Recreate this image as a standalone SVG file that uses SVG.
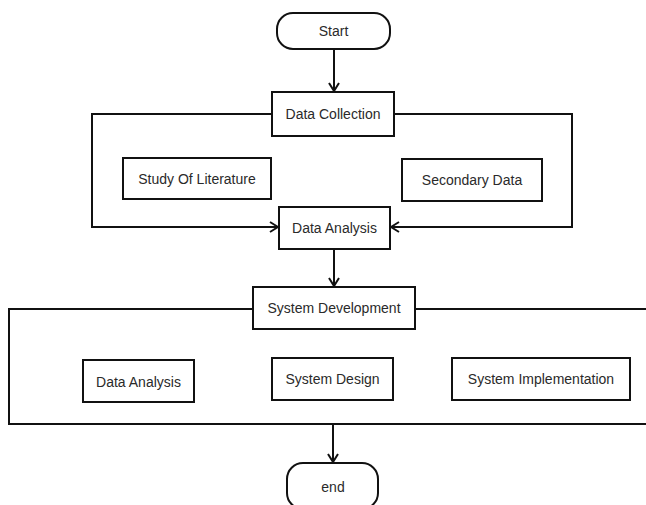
<svg xmlns="http://www.w3.org/2000/svg" width="646" height="505" viewBox="0 0 646 505">
<style>
.box{fill:#fff;stroke:#111;stroke-width:2}
.ln{fill:none;stroke:#111;stroke-width:2}
.t{font-family:"Liberation Sans",Arial,sans-serif;font-size:14px;fill:#2a2a2a;text-anchor:middle;dominant-baseline:central}
</style>
<defs>
<marker id="arr" viewBox="0 0 10 12" refX="9" refY="6" markerWidth="10" markerHeight="12" markerUnits="userSpaceOnUse" orient="auto">
<path d="M1,1 L9,6 L1,11" fill="none" stroke="#111" stroke-width="2"/>
</marker>
</defs>
<rect width="646" height="505" fill="#fff"/>
<g id="connectors">
<line class="ln" x1="334" y1="49" x2="334" y2="91" marker-end="url(#arr)"/>
<polyline class="ln" points="272,114 92,114 92,227 278,227" marker-end="url(#arr)"/>
<polyline class="ln" points="394,114 572,114 572,227 391,227" marker-end="url(#arr)"/>
<line class="ln" x1="334" y1="249" x2="334" y2="286" marker-end="url(#arr)"/>
<polyline class="ln" points="253,309 9,309 9,424 648,424"/>
<line class="ln" x1="415" y1="309" x2="648" y2="309"/>
<line class="ln" x1="333" y1="424" x2="333" y2="462" marker-end="url(#arr)"/>
</g>
<g id="start">
<rect class="box" x="277" y="13" width="113" height="36" rx="16"/>
<text class="t" x="333.5" y="31">Start</text>
</g>
<g id="data-collection">
<rect class="box" x="272" y="92" width="122" height="44"/>
<text class="t" x="333" y="114">Data Collection</text>
</g>
<g id="study-of-literature">
<rect class="box" x="123" y="158" width="148" height="41"/>
<text class="t" x="197" y="179">Study Of Literature</text>
</g>
<g id="secondary-data">
<rect class="box" x="402" y="159" width="140" height="42"/>
<text class="t" x="472" y="180">Secondary Data</text>
</g>
<g id="data-analysis">
<rect class="box" x="279" y="207" width="111" height="42"/>
<text class="t" x="334.5" y="228">Data Analysis</text>
</g>
<g id="system-development">
<rect class="box" x="253" y="287" width="162" height="42"/>
<text class="t" x="334" y="308">System Development</text>
</g>
<g id="data-analysis-2">
<rect class="box" x="83" y="360" width="111" height="42"/>
<text class="t" x="138.5" y="382">Data Analysis</text>
</g>
<g id="system-design">
<rect class="box" x="272" y="358" width="121" height="42"/>
<text class="t" x="332.5" y="379">System Design</text>
</g>
<g id="system-implementation">
<rect class="box" x="452" y="358" width="178" height="42"/>
<text class="t" x="541" y="379">System Implementation</text>
</g>
<g id="end">
<rect class="box" x="287" y="463" width="91" height="46" rx="16"/>
<text class="t" x="333" y="487">end</text>
</g>
</svg>
